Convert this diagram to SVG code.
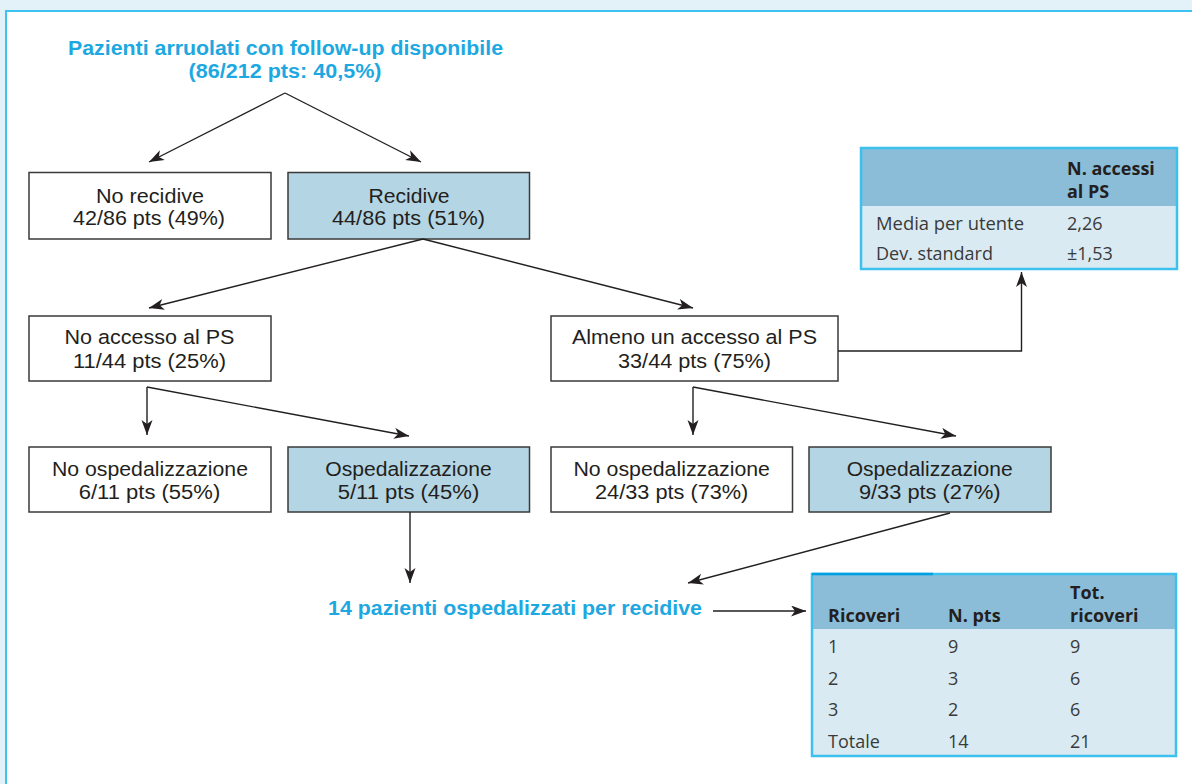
<svg xmlns="http://www.w3.org/2000/svg" width="1192" height="784" viewBox="0 0 1192 784">
<defs>
<marker id="ah" markerUnits="userSpaceOnUse" markerWidth="16" markerHeight="12" refX="15" refY="5.5" orient="auto">
<path d="M0,0 L15,5.5 L0,11 L4,5.5 z" fill="#231f20"/>
</marker>
<style>
.box{stroke:#3a3a3a;stroke-width:1.5;fill:#ffffff}
.hl{fill:#b4d5e4}
.t{font-family:"Liberation Sans",Arial,sans-serif;font-size:20.5px;fill:#231f20;text-anchor:middle}
.ttl{font-family:"Liberation Sans",Arial,sans-serif;font-size:20px;font-weight:bold;fill:#1ea8e1}
.c{stroke:#231f20;stroke-width:1.4;fill:none;marker-end:url(#ah)}
.tb{font-family:"Open Sans","Noto Sans",sans-serif;font-size:18px;fill:#3a3a3a}
.th{font-family:"Open Sans","Noto Sans",sans-serif;font-size:18px;font-weight:bold;fill:#231f20}
.tbl{stroke:#3cc0ee;stroke-width:2.5}
</style>
</defs>
<rect x="0" y="0" width="1192" height="784" fill="#e3f1f8"/>
<rect x="6" y="11" width="1200" height="790" fill="#ffffff" stroke="#3cc3ef" stroke-width="2"/>

<g id="title">
<text class="ttl" x="285.5" y="54.5" text-anchor="middle" textLength="435" lengthAdjust="spacingAndGlyphs">Pazienti arruolati con follow-up disponibile</text>
<text class="ttl" x="285" y="78" text-anchor="middle" textLength="193" lengthAdjust="spacingAndGlyphs">(86/212 pts: 40,5%)</text>
</g>

<g id="no-recidive">
<rect class="box" x="29" y="172.5" width="242" height="66.5"/>
<text class="t" x="150" y="203" textLength="108" lengthAdjust="spacingAndGlyphs">No recidive</text>
<text class="t" x="149" y="225" textLength="152" lengthAdjust="spacingAndGlyphs">42/86 pts (49%)</text>
</g>
<g id="recidive">
<rect class="box hl" x="288" y="172.5" width="241.5" height="66.5"/>
<text class="t" x="409" y="203" textLength="81" lengthAdjust="spacingAndGlyphs">Recidive</text>
<text class="t" x="408.5" y="225" textLength="153" lengthAdjust="spacingAndGlyphs">44/86 pts (51%)</text>
</g>

<g id="no-accesso">
<rect class="box" x="29" y="316" width="242" height="65"/>
<text class="t" x="149.5" y="344" textLength="170" lengthAdjust="spacingAndGlyphs">No accesso al PS</text>
<text class="t" x="149.5" y="368" textLength="153" lengthAdjust="spacingAndGlyphs">11/44 pts (25%)</text>
</g>
<g id="almeno">
<rect class="box" x="551" y="316" width="287" height="65"/>
<text class="t" x="694.5" y="344" textLength="245" lengthAdjust="spacingAndGlyphs">Almeno un accesso al PS</text>
<text class="t" x="694.5" y="368" textLength="153" lengthAdjust="spacingAndGlyphs">33/44 pts (75%)</text>
</g>

<g id="no-osp-1">
<rect class="box" x="29" y="447" width="242" height="65"/>
<text class="t" x="150" y="476" textLength="196" lengthAdjust="spacingAndGlyphs">No ospedalizzazione</text>
<text class="t" x="149.5" y="499" textLength="141.5" lengthAdjust="spacingAndGlyphs">6/11 pts (55%)</text>
</g>
<g id="osp-1">
<rect class="box hl" x="288" y="447" width="241.5" height="65"/>
<text class="t" x="408.5" y="476" textLength="166.5" lengthAdjust="spacingAndGlyphs">Ospedalizzazione</text>
<text class="t" x="408.5" y="499" textLength="141.5" lengthAdjust="spacingAndGlyphs">5/11 pts (45%)</text>
</g>
<g id="no-osp-2">
<rect class="box" x="551" y="447" width="241.5" height="65"/>
<text class="t" x="671.7" y="476" textLength="196.5" lengthAdjust="spacingAndGlyphs">No ospedalizzazione</text>
<text class="t" x="671.7" y="499" textLength="153.3" lengthAdjust="spacingAndGlyphs">24/33 pts (73%)</text>
</g>
<g id="osp-2">
<rect class="box hl" x="809" y="447" width="242" height="65"/>
<text class="t" x="929.7" y="476" textLength="166" lengthAdjust="spacingAndGlyphs">Ospedalizzazione</text>
<text class="t" x="929.8" y="499" textLength="141.7" lengthAdjust="spacingAndGlyphs">9/33 pts (27%)</text>
</g>

<g id="summary">
<text class="ttl" x="328" y="615" textLength="374" lengthAdjust="spacingAndGlyphs">14 pazienti ospedalizzati per recidive</text>
</g>

<g id="table-accessi">
<rect x="861" y="148" width="316" height="58" fill="#8bbdd8"/>
<rect x="861" y="206" width="316" height="63" fill="#d9eaf2"/>
<rect class="tbl" x="861" y="148" width="316" height="121" fill="none"/>
<text class="th" x="1067" y="175">N. accessi</text>
<text class="th" x="1067" y="198">al PS</text>
<text class="tb" x="876" y="230" textLength="148" lengthAdjust="spacingAndGlyphs">Media per utente</text>
<text class="tb" x="1067" y="230">2,26</text>
<text class="tb" x="876" y="260">Dev. standard</text>
<text class="tb" x="1067" y="260">±1,53</text>
</g>

<g id="table-ricoveri">
<rect x="812" y="574" width="364" height="55" fill="#8bbdd8"/>
<rect x="812" y="629" width="364" height="127" fill="#d9eaf2"/>
<rect class="tbl" x="812" y="574" width="364" height="182" fill="none"/>
<line x1="812" y1="574" x2="933" y2="574" stroke="#00a0e0" stroke-width="2.5"/>
<text class="th" x="828" y="622">Ricoveri</text>
<text class="th" x="948" y="622">N. pts</text>
<text class="th" x="1070" y="599">Tot.</text>
<text class="th" x="1070" y="622">ricoveri</text>
<text class="tb" x="828" y="653">1</text>
<text class="tb" x="948" y="653">9</text>
<text class="tb" x="1070" y="653">9</text>
<text class="tb" x="828" y="685">2</text>
<text class="tb" x="948" y="685">3</text>
<text class="tb" x="1070" y="685">6</text>
<text class="tb" x="828" y="716">3</text>
<text class="tb" x="948" y="716">2</text>
<text class="tb" x="1070" y="716">6</text>
<text class="tb" x="828" y="748">Totale</text>
<text class="tb" x="948" y="748">14</text>
<text class="tb" x="1070" y="748">21</text>
</g>

<g id="connectors">
<path class="c" d="M285,93 L149,162"/>
<path class="c" d="M285,93 L421,162"/>
<path class="c" d="M423,239 L149,308"/>
<path class="c" d="M423,239 L693,308"/>
<path class="c" d="M147,387 L147,435"/>
<path class="c" d="M147,387 L409,436"/>
<path class="c" d="M693,387 L693,435"/>
<path class="c" d="M693,387 L956,436"/>
<path class="c" d="M410,512 L410,583"/>
<path class="c" d="M950,513 L688,583"/>
<path class="c" d="M838,351 L1021.5,351 L1021.5,272"/>
<path class="c" d="M713,611 L806,611"/>
</g>
</svg>
